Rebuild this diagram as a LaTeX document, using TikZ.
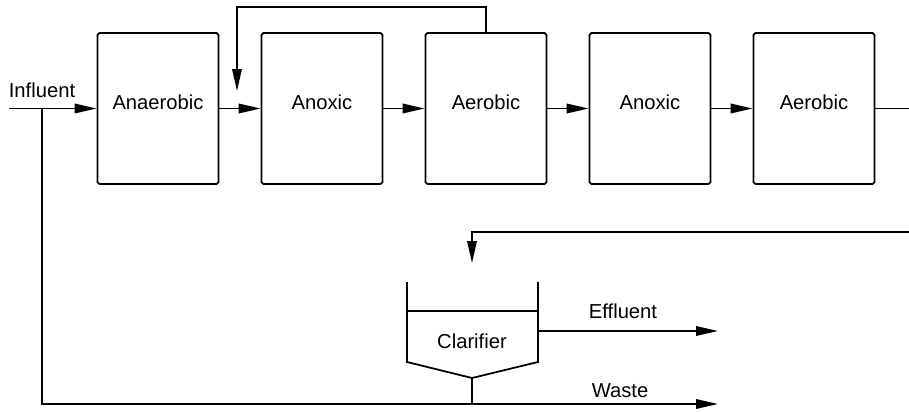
\documentclass[tikz,border=0pt]{standalone}
\usepackage{fontspec}
\setmainfont{Liberation Sans}
\usetikzlibrary{positioning, arrows.meta}

\begin{document}
\begin{tikzpicture}[
    x=0.02cm, y=-0.02cm,
    reactor/.style={
        rectangle,
        draw=black,
        line width=1pt,
        minimum width=2.42cm,
        minimum height=3.02cm,
        rounded corners=1pt,
        text depth=0.24cm,
        inner sep=0pt,
        font=\fontsize{11.5}{13}\selectfont
    },
    flow/.style={-{Triangle[length=4.4mm, width=1.9mm]}, line width=1pt},
    pipe/.style={line width=1pt},
    tag/.style={font=\fontsize{11.5}{13}\selectfont}
]
\useasboundingbox (0,0) rectangle (909,412);

% === Reactor train ===
\foreach \name/\txt [count=\i from 0] in {anaer/Anaerobic, anox1/Anoxic, aer1/Aerobic, anox2/Anoxic, aer2/Aerobic}
    \node[reactor] (\name) at (158+164*\i, 108.5) {\txt};

\coordinate (inlet) at (9,108.5);
\coordinate (split) at (42,108.5);
\node[tag] (influent) at (42,90) {Influent};
\draw[flow] (inlet) -- (anaer.west);
\foreach \a/\b in {anaer/anox1, anox1/aer1, aer1/anox2, anox2/aer2}
    \draw[flow] (\a.east) -- (\b.west);

% internal recycle back to the first anoxic zone
\coordinate (recyc) at (237,91);
\draw[flow] (aer1.north) -- ++(0,-25) -| (recyc);

% mixed liquor out, return to clarifier
\coordinate (outlet) at (909,108.5);
\coordinate (ras) at (909,232);
\coordinate (clartop) at (472,263);
\draw[pipe] (aer2.east) -- (outlet);
\draw[flow] (ras) -| (clartop);

% === Clarifier ===
\node[tag] (clar) at (472,341) {Clarifier};
\coordinate (clarbot) at (472,378);
\draw[pipe] (407,282) -- (407,362) -- (clarbot) -- (538,362) -- (538,282);
\draw[pipe] (407,311) -- (538,311);

\coordinate (weir) at (538,331);
\coordinate (effl) at (718,331);
\draw[flow] (weir) -- (effl);
\node[tag] (effluent) at (623,311) {Effluent};

% waste line
\coordinate (corner) at (42,404);
\coordinate (waste) at (718,404);
\draw[flow] (split) -- (corner) -- (waste);
\draw[pipe] (clarbot) -- (clarbot |- waste);
\node[tag] (wastelbl) at (620,391) {Waste};

\end{tikzpicture}
\end{document}
